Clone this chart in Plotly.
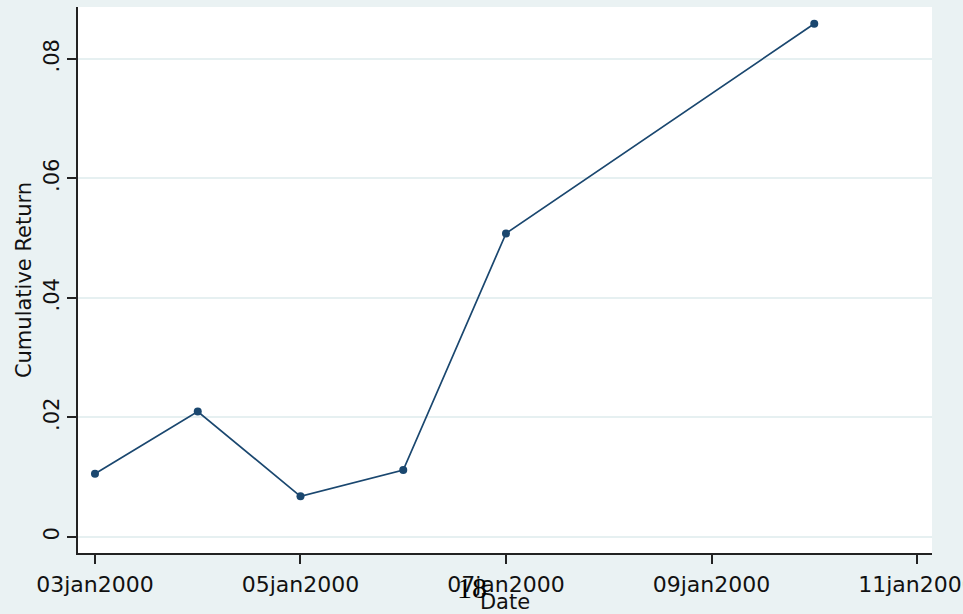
import plotly.graph_objects as go

dates = ["2000-01-03", "2000-01-04", "2000-01-05", "2000-01-06", "2000-01-07", "2000-01-10"]
cum_return = [0.0106, 0.0210, 0.0068, 0.0112, 0.0508, 0.0859]

x_tickvals = ["2000-01-03", "2000-01-05", "2000-01-07", "2000-01-09", "2000-01-11"]
x_ticktext = ["03jan2000", "05jan2000", "07jan2000", "09jan2000", "11jan2000"]
y_tickvals = [0, 0.02, 0.04, 0.06, 0.08]
y_ticktext = ["0", ".02", ".04", ".06", ".08"]

navy = "#1A476F"
bg = "#EAF2F3"
font = "DejaVu Sans, Arial, sans-serif"

fig = go.Figure()
fig.add_trace(go.Scatter(
    x=dates, y=cum_return, mode="lines+markers",
    line=dict(color=navy, width=1.7),
    marker=dict(color=navy, size=8),
    showlegend=False, hoverinfo="skip",
))

fig.update_layout(
    width=963, height=614,
    margin=dict(l=78, r=31, t=7, b=61, autoexpand=False),
    paper_bgcolor=bg, plot_bgcolor="white",
    font=dict(family=font, size=22, color="#111111"),
    xaxis=dict(
        type="date", automargin=False,
        range=["2000-01-02 20:02", "2000-01-11 03:30"],
        tickmode="array", tickvals=x_tickvals, ticktext=x_ticktext,
        ticklabeloverflow="allow", ticklabelstandoff=2,
        showgrid=False, zeroline=False,
        showline=True, linecolor="#222222", linewidth=2,
        ticks="outside", ticklen=9, tickwidth=2, tickcolor="#222222",
        tickfont=dict(size=22, family=font, color="#111111"),
        title=dict(text="Date", font=dict(size=21, family=font, color="#111111"), standoff=2),
    ),
    yaxis=dict(
        automargin=False,
        range=[-0.00268, 0.0887],
        tickmode="array", tickvals=y_tickvals, ticktext=y_ticktext,
        tickangle=-90,
        showgrid=True, gridcolor="#E6F0F1", gridwidth=1.5, zeroline=False,
        showline=True, linecolor="#222222", linewidth=2,
        ticks="outside", ticklen=9, tickwidth=2, tickcolor="#222222",
        tickfont=dict(size=21, family=font, color="#111111"),
        title=dict(text="Cumulative Return", font=dict(size=21, family=font, color="#111111"), standoff=2),
    ),
)

fig.add_annotation(
    text="18", xref="paper", yref="paper",
    x=(472 - 78) / (963 - 78 - 31), y=-(587 - 553) / (614 - 7 - 61),
    xanchor="center", yanchor="middle",
    showarrow=False, font=dict(family="Liberation Serif, Times New Roman, serif", size=30, color="black"),
)

fig.write_html("out.html")
